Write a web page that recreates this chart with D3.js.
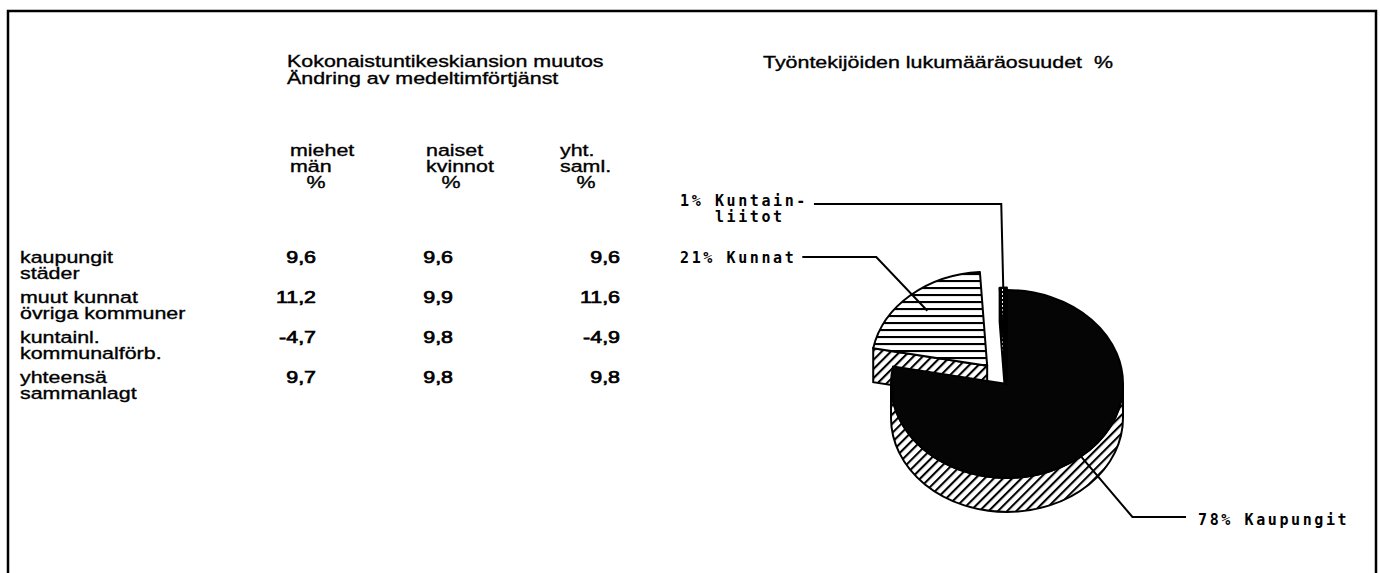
<!DOCTYPE html>
<html>
<head>
<meta charset="utf-8">
<script src="https://cdn.jsdelivr.net/npm/d3@7"></script>
<style>
  body { margin: 0; background: #fff; }
  svg { display: block; }
  .txt { font-family: "Liberation Sans", Arial, sans-serif; font-size: 17px; fill: #000; stroke: #000; stroke-width: 0.35px; white-space: pre; }
  .num { stroke-width: 0.7px; }
  .lbl { font-family: "DejaVu Sans Mono", monospace; font-weight: bold; font-size: 15px; letter-spacing: 2.6px; fill: #000; white-space: pre; }
</style>
</head>
<body>
<div id="chart"></div>
<script>
// table data
var titleLines = ["Kokonaistuntikeskiansion muutos", "Ändring av medeltimförtjänst"];
var columnHeads = [["miehet", "män", "%"], ["naiset", "kvinnot", "%"], ["yht.", "saml.", "%"]];
var rowLabels = [["kaupungit", "städer"], ["muut kunnat", "övriga kommuner"], ["kuntainl.", "kommunalförb."], ["yhteensä", "sammanlagt"]];
var men = [9.6, 11.2, -4.7, 9.7];
var women = [9.6, 9.9, 9.8, 9.8];
var total = [9.6, 11.6, -4.9, 9.8];

// pie data
var pieTitle = "Työntekijöiden lukumääräosuudet  %";
var sliceNames = [["Kaupungit"], ["Kunnat"], ["Kuntain-", "liitot"]];
var sliceShares = [78, 21, 1];

var W = 1380, H = 573;
var sx = 1.26; // scanned type is wider than Liberation Sans

var svg = d3.select("#chart").append("svg")
  .attr("width", W)
  .attr("height", H);

svg.append("rect").attr("width", W).attr("height", H).attr("fill", "#fff");

// frame, open at the bottom
svg.append("path")
  .attr("d", "M8," + H + "V11H1376V" + H)
  .attr("fill", "none")
  .attr("stroke", "#000")
  .attr("stroke-width", 2.5);

var defs = svg.append("defs");

var diag = defs.append("pattern")
  .attr("id", "diag")
  .attr("patternUnits", "userSpaceOnUse")
  .attr("width", 6.5).attr("height", 6.5)
  .attr("patternTransform", "rotate(45)");
diag.append("rect").attr("width", 6.5).attr("height", 6.5).attr("fill", "#fff");
diag.append("line").attr("x1", 1).attr("x2", 1).attr("y1", 0).attr("y2", 6.5)
  .attr("stroke", "#000").attr("stroke-width", 2.2);

var horiz = defs.append("pattern")
  .attr("id", "horiz")
  .attr("patternUnits", "userSpaceOnUse")
  .attr("width", 8).attr("height", 7);
horiz.append("rect").attr("width", 8).attr("height", 7).attr("fill", "#fff");
horiz.append("line").attr("x1", 0).attr("x2", 8).attr("y1", 1).attr("y2", 1)
  .attr("stroke", "#000").attr("stroke-width", 2.2);

var dense = defs.append("pattern")
  .attr("id", "dense")
  .attr("patternUnits", "userSpaceOnUse")
  .attr("width", 4).attr("height", 4);
dense.append("rect").attr("width", 4).attr("height", 4).attr("fill", "#000");
dense.append("rect").attr("x", 2).attr("y", 1).attr("width", 1).attr("height", 2).attr("fill", "#fff");

// stretched text helper
function txt(g, x, y, s, anchor) {
  return g.append("text")
    .attr("class", "txt")
    .attr("transform", "translate(" + x + "," + y + ") scale(" + sx + ",1)")
    .attr("text-anchor", anchor || "start")
    .text(s);
}

// ---- table ----
var table = svg.append("g");
titleLines.forEach(function(s, i) {
  txt(table, 287, 67 + i * 17, s);
});

var colLeft = d3.scaleOrdinal().domain([0, 1, 2]).range([290, 426, 560]);
var colPct = d3.scaleOrdinal().domain([0, 1, 2]).range([316, 451, 586]);
var colRight = d3.scaleOrdinal().domain([0, 1, 2]).range([316, 453, 620]);
var rowY = d3.scalePoint().domain(d3.range(rowLabels.length)).range([263, 383]);
var fmt = d3.formatLocale({decimal: ",", thousands: " ", grouping: [3], currency: ["", ""], minus: "-"}).format(".1f");

columnHeads.forEach(function(h, c) {
  txt(table, colLeft(c), 156, h[0]);
  txt(table, colLeft(c), 172, h[1]);
  txt(table, colPct(c), 188, h[2], "middle");
});

rowLabels.forEach(function(r, i) {
  txt(table, 20, rowY(i), r[0]);
  txt(table, 20, rowY(i) + 16, r[1]);
});

[men, women, total].forEach(function(col, c) {
  col.forEach(function(v, i) {
    txt(table, colRight(c), rowY(i), fmt(v), "end").classed("num", true);
  });
});

// ---- pie ----
txt(svg, 763, 68, pieTitle);

var cx = 1007, cy = 384, rx = 116, ry = 94, depth = 34;
var explode = [0, 30, 3];

var arcs = d3.pie().sort(null).startAngle(0).endAngle(2 * Math.PI)(sliceShares);
arcs.forEach(function(a, i) {
  a.mid = (a.startAngle + a.endAngle) / 2;
  a.ox = cx + explode[i] * Math.sin(a.mid);
  a.oy = cy - explode[i] * Math.cos(a.mid) * ry / rx;
  a.idx = i;
});

function pt(a, ang, f, dy) {
  f = f === undefined ? 1 : f;
  return [a.ox + rx * f * Math.sin(ang), a.oy - ry * f * Math.cos(ang) + (dy || 0)];
}

function topPath(a) {
  var p0 = pt(a, a.startAngle), p1 = pt(a, a.endAngle);
  var large = a.endAngle - a.startAngle > Math.PI ? 1 : 0;
  return "M" + a.ox + "," + a.oy + "L" + p0 + "A" + rx + "," + ry + " 0 " + large + " 1 " + p1 + "Z";
}

function rimPath(a) {
  var s = Math.max(a.startAngle, Math.PI / 2), e = Math.min(a.endAngle, 3 * Math.PI / 2);
  if (s >= e) return null;
  var p0 = pt(a, s), p1 = pt(a, e), q1 = pt(a, e, 1, depth), q0 = pt(a, s, 1, depth);
  return "M" + p0 + "A" + rx + "," + ry + " 0 0 1 " + p1 + "L" + q1 +
    "A" + rx + "," + ry + " 0 0 0 " + q0 + "Z";
}

function wallPath(a, ang) {
  var p = pt(a, ang);
  return "M" + a.ox + "," + a.oy + "L" + p + "L" + [p[0], p[1] + depth] +
    "L" + [a.ox, a.oy + depth] + "Z";
}

var topFill = ["#050505", "url(#horiz)", "url(#dense)"];
var sideFill = ["url(#diag)", "url(#diag)", "url(#dense)"];

// back to front
var order = arcs.slice().sort(function(a, b) {
  return -Math.cos(a.mid) - -Math.cos(b.mid);
});

var pie = svg.append("g");
order.forEach(function(a) {
  var g = pie.append("g");
  // a wall shows when its outward normal points down the page
  if (Math.cos(a.startAngle - Math.PI / 2) < -0.01) {
    g.append("path").attr("d", wallPath(a, a.startAngle))
      .attr("fill", sideFill[a.idx]).attr("stroke", "#000").attr("stroke-width", 2);
  }
  if (Math.cos(a.endAngle + Math.PI / 2) < -0.01) {
    g.append("path").attr("d", wallPath(a, a.endAngle))
      .attr("fill", sideFill[a.idx]).attr("stroke", "#000").attr("stroke-width", 2);
  }
  var rp = rimPath(a);
  if (rp) {
    g.append("path").attr("d", rp)
      .attr("fill", sideFill[a.idx]).attr("stroke", "#000").attr("stroke-width", 2);
  }
  g.append("path").attr("d", topPath(a))
    .attr("fill", topFill[a.idx]).attr("stroke", "#000").attr("stroke-width", 2)
    .attr("stroke-linejoin", "round");
});

// ---- labels with leader lines ----
var labels = svg.append("g");

function label(x, y, lines) {
  var t = labels.append("text").attr("class", "lbl").attr("x", x).attr("y", y);
  lines.forEach(function(s, k) {
    t.append("tspan").attr("x", x).attr("dy", k ? 16 : 0).text(s);
  });
  return t;
}

function leader(d) {
  labels.append("path")
    .attr("d", d)
    .attr("fill", "none")
    .attr("stroke", "#000")
    .attr("stroke-width", 2);
}

// 1% Kuntainliitot, upper left
var a2 = arcs[2];
var t2 = label(680, 206, [sliceShares[2] + "% " + sliceNames[2][0], "   " + sliceNames[2][1]]);
var first2 = t2.select("tspan").node().getComputedTextLength();
var ly2 = 204;
var anc2 = pt(a2, a2.mid, 1.0);
leader("M" + (680 + first2 + 6) + "," + ly2 + "H" + (anc2[0] - 2) + "L" + anc2);

// 21% Kunnat
var a1 = arcs[1];
var t1 = label(680, 263, [sliceShares[1] + "% " + sliceNames[1][0]]);
var w1 = t1.node().getComputedTextLength();
var ly1 = 257;
var anc1 = pt(a1, a1.mid, 0.78);
leader("M" + (680 + w1 + 6) + "," + ly1 + "H" + (anc1[0] - (anc1[1] - ly1) * 0.95) + "L" + anc1);

// 78% Kaupungit, lower right
var a0 = arcs[0];
label(1198, 525, [sliceShares[0] + "% " + sliceNames[0][0]]);
var ly0 = 517;
var anc0 = pt(a0, a0.mid, 1.0);
leader("M" + anc0 + "L" + (anc0[0] + (ly0 - anc0[1]) * 0.85) + "," + ly0 + "H1186");
</script>
</body>
</html>
